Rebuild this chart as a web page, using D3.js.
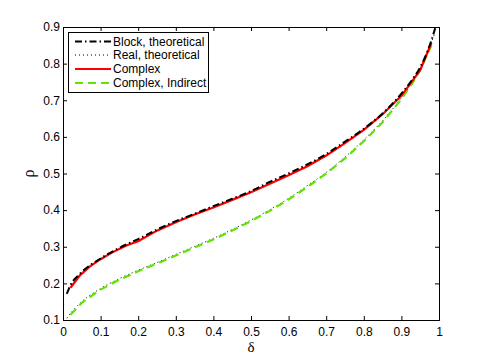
<!DOCTYPE html>
<html>
<head>
<meta charset="utf-8">
<script src="https://d3js.org/d3.v7.min.js"></script>
<style>
  body { margin: 0; background: #fff; }
</style>
</head>
<body>
<svg width="485" height="360"></svg>
<script>
// Step 1
var blockDelta = [0.01, 0.02, 0.045, 0.1, 0.15, 0.2, 0.25, 0.3, 0.35, 0.4, 0.45, 0.5, 0.55, 0.6, 0.65, 0.7, 0.75, 0.8, 0.85, 0.9, 0.93, 0.95, 0.97, 0.99];
var blockRho   = [0.171, 0.195, 0.226, 0.268, 0.297, 0.321, 0.347, 0.370, 0.390, 0.411, 0.431, 0.452, 0.477, 0.500, 0.525, 0.553, 0.587, 0.622, 0.664, 0.718, 0.758, 0.790, 0.835, 0.897];

var realDelta = [0.01, 0.02, 0.05, 0.1, 0.15, 0.2, 0.25, 0.3, 0.35, 0.4, 0.45, 0.5, 0.55, 0.6, 0.65, 0.7, 0.75, 0.8, 0.85, 0.9, 0.93, 0.95, 0.97, 0.99];
var realRho   = [0.105, 0.118, 0.150, 0.186, 0.213, 0.236, 0.257, 0.279, 0.301, 0.323, 0.347, 0.373, 0.401, 0.432, 0.467, 0.503, 0.545, 0.592, 0.644, 0.707, 0.752, 0.789, 0.835, 0.885];

var complexDelta = [0.02, 0.045, 0.07, 0.1, 0.13, 0.17, 0.2, 0.25, 0.3, 0.35, 0.4, 0.45, 0.5, 0.55, 0.6, 0.65, 0.7, 0.75, 0.8, 0.85, 0.9, 0.95, 0.98];
var complexRho   = [0.188, 0.222, 0.245, 0.266, 0.284, 0.304, 0.315, 0.344, 0.367, 0.388, 0.407, 0.428, 0.449, 0.472, 0.495, 0.520, 0.549, 0.583, 0.619, 0.662, 0.712, 0.782, 0.857];

var indirectDelta = [0.02, 0.05, 0.1, 0.15, 0.2, 0.25, 0.3, 0.35, 0.4, 0.45, 0.5, 0.55, 0.6, 0.65, 0.7, 0.75, 0.8, 0.85, 0.9, 0.93, 0.95, 0.98];
var indirectRho   = [0.114, 0.147, 0.183, 0.210, 0.233, 0.254, 0.276, 0.298, 0.320, 0.344, 0.370, 0.398, 0.429, 0.463, 0.500, 0.541, 0.588, 0.640, 0.703, 0.748, 0.783, 0.850];

var xTicks = [0, 0.1, 0.2, 0.3, 0.4, 0.5, 0.6, 0.7, 0.8, 0.9, 1];
var yTicks = [0.1, 0.2, 0.3, 0.4, 0.5, 0.6, 0.7, 0.8, 0.9];

var seriesNames = ["Block, theoretical", "Real, theoretical", "Complex", "Complex, Indirect"];

function zip(xs, ys) { return xs.map(function(x, i) { return [x, ys[i]]; }); }

var series = [
  {name: seriesNames[0], data: zip(blockDelta, blockRho), color: "#000", width: 2, dash: "7,3,1.5,3", curve: d3.curveMonotoneX},
  {name: seriesNames[1], data: zip(realDelta, realRho), color: "#000", width: 1, dash: "1,3", curve: d3.curveMonotoneX},
  {name: seriesNames[2], data: zip(complexDelta, complexRho), color: "#ff0000", width: 2.2, dash: null, curve: d3.curveLinear},
  {name: seriesNames[3], data: zip(indirectDelta, indirectRho), color: "#5fe600", width: 2.2, dash: "8,5", curve: d3.curveLinear}
];

// Step 2 - layout
var svg = d3.select("svg");
var margin = {top: 27, right: 46, bottom: 40, left: 63};
var width = 485 - margin.left - margin.right,
    height = 360 - margin.top - margin.bottom;

var xScale = d3.scaleLinear().domain([0, 1]).range([0, width]),
    yScale = d3.scaleLinear().domain([0.1, 0.9]).range([height, 0]);

var g = svg.append("g")
    .attr("transform", "translate(" + margin.left + "," + margin.top + ")");

var font = "'Liberation Sans', Arial, Helvetica, sans-serif";

// Step 3 - axes (matlab style box, ticks inside)
var tickLen = 4;
g.append("g")
  .attr("transform", "translate(0," + height + ")")
  .call(d3.axisBottom(xScale).tickValues(xTicks).tickSize(-tickLen).tickPadding(7).tickFormat(d3.format("")));
g.append("g")
  .call(d3.axisTop(xScale).tickValues(xTicks).tickSize(-tickLen).tickFormat(""));
g.append("g")
  .call(d3.axisLeft(yScale).tickValues(yTicks).tickSize(-tickLen).tickPadding(3).tickFormat(d3.format(".1f")));
g.append("g")
  .attr("transform", "translate(" + width + ",0)")
  .call(d3.axisRight(yScale).tickValues(yTicks).tickSize(-tickLen).tickFormat(""));

g.selectAll(".domain").attr("stroke", "#000").attr("stroke-width", 1);
g.selectAll(".tick line").attr("stroke", "#000");
g.selectAll(".tick text").style("font-family", font).style("font-size", "12px").attr("fill", "#000");

// Step 4 - labels
svg.append("text")
  .attr("x", margin.left + width / 2)
  .attr("y", 352)
  .attr("text-anchor", "middle")
  .style("font-family", "'Liberation Serif', 'Times New Roman', serif")
  .style("font-size", "15px")
  .text("δ");

svg.append("text")
  .attr("text-anchor", "middle")
  .attr("transform", "translate(34," + (margin.top + height / 2) + ")rotate(-90)")
  .style("font-family", "'Liberation Serif', 'Times New Roman', serif")
  .style("font-size", "16px")
  .text("ρ");

// Step 5 - lines
var line = function(curve) {
  return d3.line()
    .x(function(d) { return xScale(d[0]); })
    .y(function(d) { return yScale(d[1]); })
    .curve(curve);
};

var plot = g.append("g");
// draw order so the block line peeks out over the red one like the original
[1, 3, 2, 0].forEach(function(i) {
  var s = series[i];
  plot.append("path")
    .datum(s.data)
    .attr("d", line(s.curve))
    .style("fill", "none")
    .style("stroke", s.color)
    .style("stroke-width", s.width)
    .style("stroke-dasharray", s.dash);
});

// Step 6 - legend
var legend = svg.append("g").attr("transform", "translate(68,32)");
legend.append("rect")
  .attr("x", 0.5).attr("y", 0.5)
  .attr("width", 140).attr("height", 60)
  .style("fill", "#fff")
  .style("stroke", "#000")
  .style("stroke-width", 1);

var rowY = [9.5, 23, 37, 51];
series.forEach(function(s, i) {
  legend.append("line")
    .attr("x1", 7).attr("x2", 43)
    .attr("y1", rowY[i]).attr("y2", rowY[i])
    .style("stroke", s.color)
    .style("stroke-width", s.width)
    .style("stroke-dasharray", s.dash);
  legend.append("text")
    .attr("x", 45)
    .attr("y", rowY[i] + 4)
    .style("font-family", font)
    .style("font-size", "12px")
    .text(s.name);
});
</script>
</body>
</html>
